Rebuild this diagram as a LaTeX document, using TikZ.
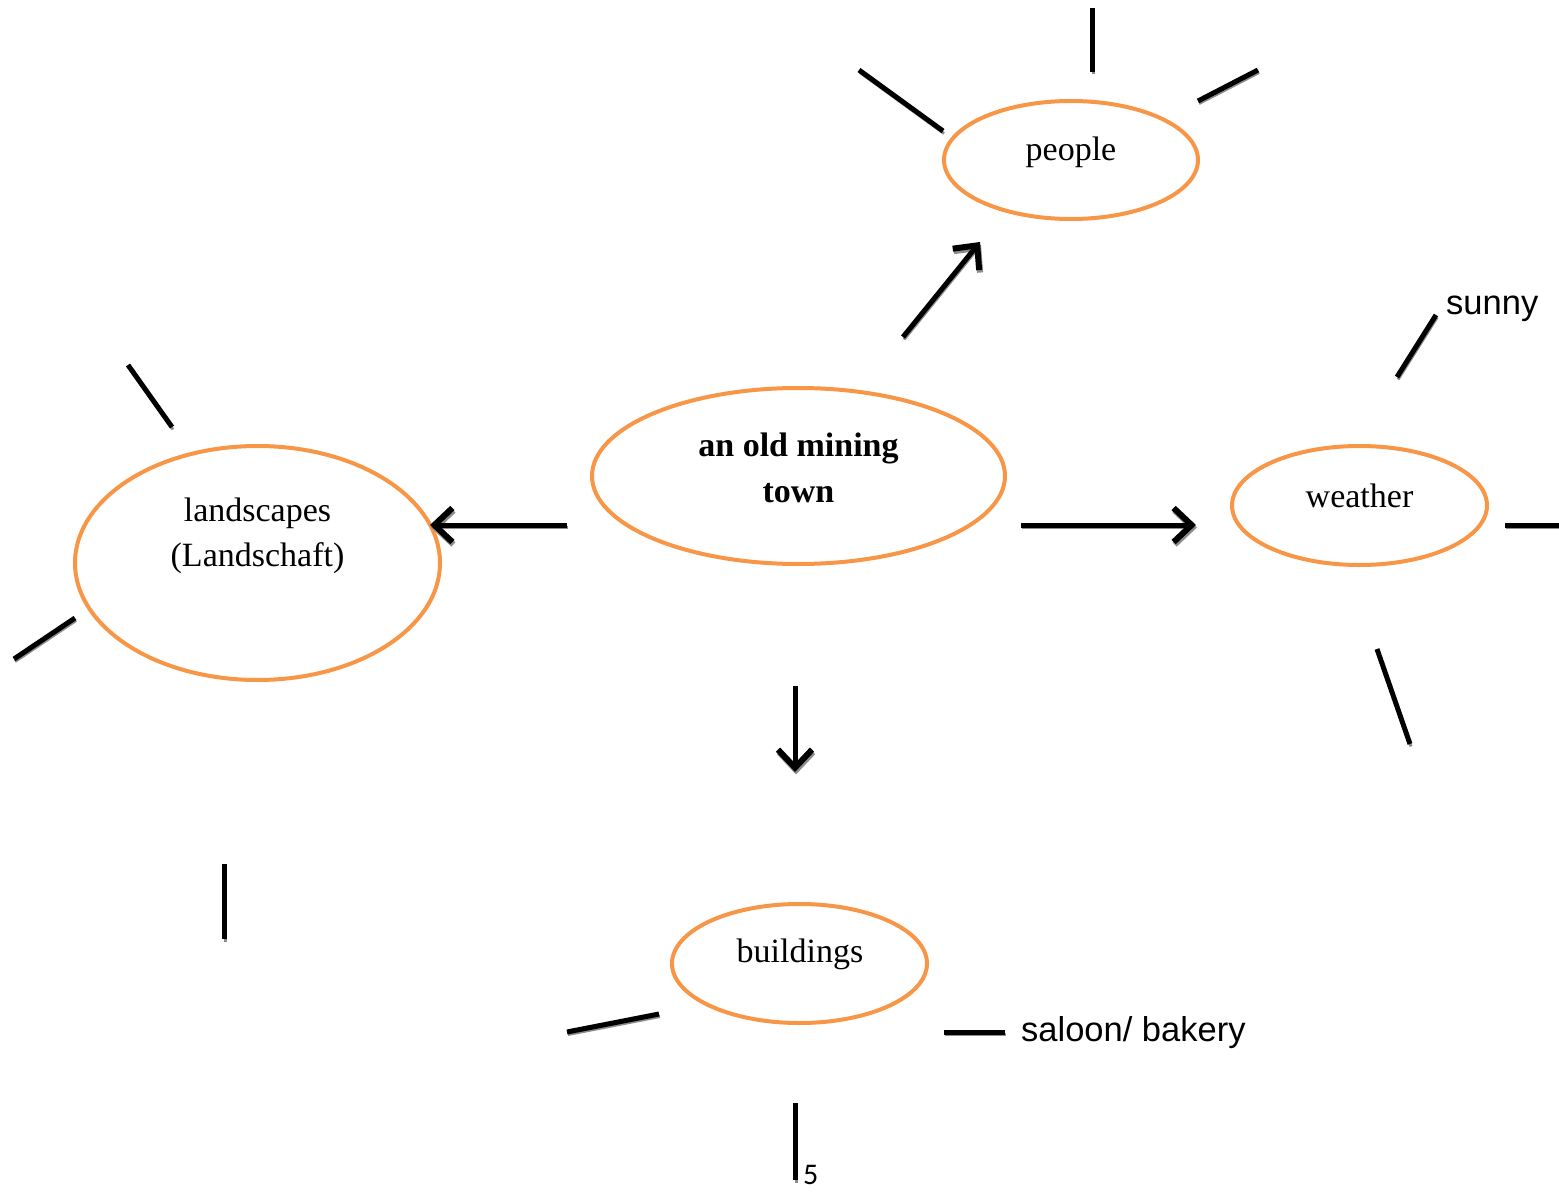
\documentclass[tikz,border=0pt]{standalone}
\usepackage{fontspec}
\setmainfont{Liberation Serif}
\newfontfamily\arialf{Liberation Sans}
\newfontfamily\calf{Carlito}
\usetikzlibrary{arrows.meta}
\definecolor{accorange}{HTML}{F79646}
\tikzset{
  oval/.style={draw=accorange, line width=4pt},
  txt/.style={align=center, font=\fontsize{34}{45}\selectfont, inner sep=0pt},
  spoke/.style={line width=5pt, black, preaction={draw, black!45, line width=3pt, transform canvas={shift={(1pt,-2.5pt)}}}},
  arr/.style={spoke, -{Straight Barb[length=18pt, width=34pt, line width=6pt]}},
  lbl/.style={font=\arialf\fontsize{34.5}{40}\selectfont, inner sep=0pt}
}
\begin{document}
\begin{tikzpicture}[x=1pt,y=-1pt]
\useasboundingbox (0,0) rectangle (1559,1193);
% ellipses
\draw[oval] (1071,160) ellipse [x radius=127, y radius=59];
\draw[oval] (798.5,476) ellipse [x radius=206.5, y radius=88];
\draw[oval] (257.5,563) ellipse [x radius=182.5, y radius=117];
\draw[oval] (1359.5,505.5) ellipse [x radius=127.5, y radius=59.5];
\draw[oval] (799.5,963.5) ellipse [x radius=127.5, y radius=59.5];
% texts
\node[txt] (people) at (1071,152) {people};
\node[txt, font=\bfseries\fontsize{34}{46}\selectfont] (town) at (798.5,468) {an old mining\\town};
\node[txt] (land) at (257.5,536) {landscapes\\(Landschaft)};
\node[txt] (weather) at (1359.5,496) {weather};
\node[txt] (build) at (800,954) {buildings};
\node[lbl, anchor=west] (sunny) at (1446,309) {sunny};
\node[lbl, anchor=west] (saloon) at (1021,1033) {saloon/ bakery};
\node[font=\calf\fontsize{30}{32}\selectfont, inner sep=0pt, anchor=base west] (five) at (803,1184) {5};
% coordinates for arrows
\coordinate (a1s) at (903,337); \coordinate (a1e) at (980,242);
\coordinate (a2s) at (567,525); \coordinate (a2e) at (430,525);
\coordinate (a3s) at (1021,525); \coordinate (a3e) at (1196,525);
\coordinate (a4s) at (795,686); \coordinate (a4e) at (795,772);
\draw[arr] (a1s) -- (a1e);
\draw[arr] (a2s) -- (a2e);
\draw[arr] (a3s) -- (a3e);
\draw[arr] (a4s) -- (a4e);
% spokes: people
\draw[spoke] (1092,8) -- (1092,72);
\draw[spoke] (859,70) -- (943,131);
\draw[spoke] (1198,101) -- (1258,70);
% spokes: landscapes
\draw[spoke] (128,365) -- (172,427);
\draw[spoke] (14,659) -- (75,618);
\draw[spoke] (224,864) -- (224,939);
% spokes: weather
\coordinate (sunnyend) at (1436,315);
\draw[spoke] (1397,377) -- (sunnyend);
\draw[spoke] (1505,525) -- (1559,525);
\draw[spoke] (1377,649) -- (1410,744);
% spokes: buildings
\draw[spoke] (567,1032) -- (659,1014);
\draw[spoke] (944,1032) -- (1005,1032);
\draw[spoke] (795,1103) -- (795,1180);
\end{tikzpicture}
\end{document}
